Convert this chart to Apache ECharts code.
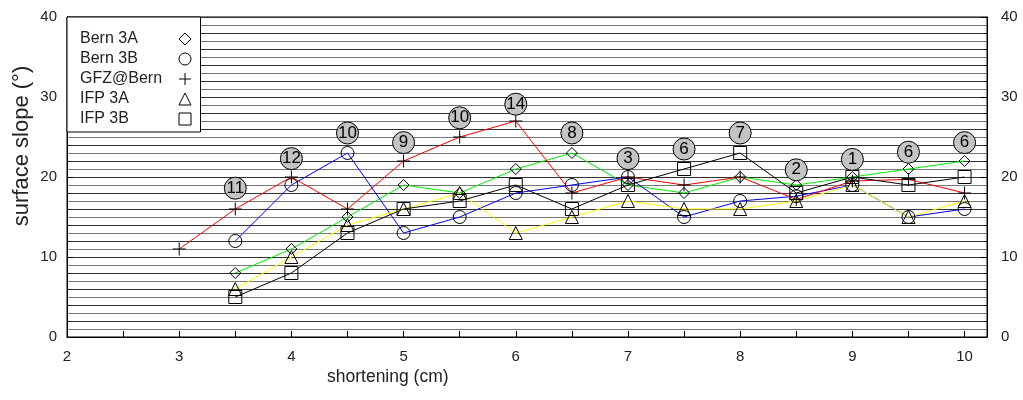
<!DOCTYPE html>
<html>
<head>
<meta charset="utf-8">
<script src="https://cdn.jsdelivr.net/npm/echarts@6/dist/echarts.min.js"></script>
<style>
  html, body { margin: 0; padding: 0; background: #fff; }
  #chart { width: 1023px; height: 400px; }
</style>
</head>
<body>
<div id="chart"></div>
<script>
// shortening (cm)
const shortening = [3.5, 4, 4.5, 5, 5.5, 6, 6.5, 7, 7.5, 8, 8.5, 9, 9.5, 10];
const shorteningGfz = [3, 3.5, 4, 4.5, 5, 5.5, 6, 6.5, 7, 7.5, 8, 8.5, 9, 9.5, 10];

// surface slope (deg)
const bern3A = [8, 11, 15, 19, 18, 21, 23, 19, 18, 20, 19, 20, 21, 22];
const bern3B = [12, 19, 23, 13, 15, 18, 19, 20, 15, 17, 17.6, 19, 15, 16];
const gfzBern = [11, 16, 20, 16, 22, 25, 27, 18, 20, 19, 20, 17.2, 19.5, 19.7, 18];
const ifp3A = [6, 10, 14, 16, 18, 13, 15, 17, 16, 16, 17, 19, 15, 17];
const ifp3B = [5, 8, 13, 16, 17, 19, 16, 19, 21, 23, 18, 20, 19, 20];

// circled numbers above each shortening step
const annotN = [11, 12, 10, 9, 10, 14, 8, 3, 6, 7, 2, 1, 6, 6];
const annotY = [18.6, 22.3, 25.5, 24.3, 27.4, 29.1, 25.5, 22.3, 23.5, 25.5, 20.9, 22.2, 23.1, 24.3];

const xTickLabels = [2, 3, 4, 5, 6, 7, 8, 9, 10];
const yTickLabels = [0, 10, 20, 30, 40];

const plusPath = 'path://M0,-6L0,6M-6,0L6,0';
const FONT = 'Liberation Sans, Arial, sans-serif';

const pairs = (xs, ys) => xs.map((x, i) => [x, ys[i]]);

const seriesDefs = [
  { name: 'Bern 3A', x: shortening, y: bern3A, color: '#00ee00', symbol: 'diamond', size: 11 },
  { name: 'Bern 3B', x: shortening, y: bern3B, color: '#0000ff', symbol: 'circle', size: 13 },
  { name: 'GFZ@Bern', x: shorteningGfz, y: gfzBern, color: '#ff0000', symbol: plusPath, size: 13 },
  { name: 'IFP 3A', x: shortening, y: ifp3A, color: '#ffff00', symbol: 'triangle', size: 13 },
  { name: 'IFP 3B', x: shortening, y: ifp3B, color: '#000000', symbol: 'rect', size: 13 }
];

const chart = echarts.init(document.getElementById('chart'));

const series = seriesDefs.map(d => ({
  name: d.name,
  type: 'line',
  data: pairs(d.x, d.y),
  symbol: d.symbol,
  symbolSize: d.size,
  showSymbol: true,
  animation: false,
  lineStyle: { color: d.color, width: 1 },
  itemStyle: { color: 'rgba(0,0,0,0)', borderColor: '#000', borderWidth: 1 },
  z: 3
}));

series.push({
  name: 'count',
  type: 'scatter',
  data: shortening.map((x, i) => [x, annotY[i], annotN[i]]),
  symbol: 'circle',
  symbolSize: 22,
  itemStyle: { color: '#c4c4c4', borderColor: '#000', borderWidth: 1, opacity: 1 },
  label: {
    show: true,
    position: 'inside',
    formatter: p => String(p.value[2]),
    color: '#000',
    fontFamily: FONT,
    fontSize: 17
  },
  animation: false,
  z: 4
});

const yTickFmt = v => (yTickLabels.indexOf(v) >= 0 ? String(v) : '');
const xTickFmt = v => (xTickLabels.indexOf(v) >= 0 ? String(v) : '');

chart.setOption({
  backgroundColor: '#fff',
  animation: false,
  textStyle: { fontFamily: FONT },
  grid: { left: 67, right: 36, top: 17, bottom: 63, show: true, borderColor: '#000', borderWidth: 1, backgroundColor: 'transparent' },
  legend: {
    orient: 'vertical',
    left: 67,
    top: 17,
    data: [
      { name: 'Bern 3A', icon: 'diamond' },
      { name: 'Bern 3B', icon: 'circle' },
      { name: 'GFZ@Bern', icon: plusPath },
      { name: 'IFP 3A', icon: 'triangle' },
      { name: 'IFP 3B', icon: 'rect' }
    ],
    align: 'right',
    itemWidth: 12,
    itemHeight: 12,
    itemGap: 4,
    padding: [14, 9, 5, 13],
    backgroundColor: '#fff',
    borderColor: '#000',
    borderWidth: 1,
    itemStyle: { color: 'rgba(0,0,0,0)', borderColor: '#000', borderWidth: 1 },
    formatter: name => '{t|' + name + '}',
    textStyle: {
      fontSize: 16, color: '#222', fontFamily: FONT,
      rich: { t: { width: 94, align: 'left', fontSize: 16, color: '#222', fontFamily: FONT } }
    },
    z: 10
  },
  xAxis: {
    type: 'value',
    min: 2,
    max: 10.2,
    interval: 1,
    axisLine: { show: true, lineStyle: { color: '#000' } },
    axisTick: { show: true, inside: true, length: 6, lineStyle: { color: '#000' } },
    minorTick: { show: true, splitNumber: 2, length: 6, lineStyle: { color: '#000' } },
    axisLabel: { formatter: xTickFmt, color: '#222', fontSize: 15, margin: 12, fontFamily: FONT, showMaxLabel: false },
    splitLine: { show: false }
  },
  yAxis: [
    {
      type: 'value', min: 0, max: 40, interval: 10, position: 'left',
      axisLine: { show: true, lineStyle: { color: '#000' } },
      axisTick: { show: true, inside: true, length: 6, lineStyle: { color: '#000' } },
      minorTick: { show: true, splitNumber: 5, length: 3, lineStyle: { color: '#000' } },
      axisLabel: { formatter: yTickFmt, color: '#222', fontSize: 15, margin: 10, fontFamily: FONT },
      splitLine: { show: false }
    },
    {
      type: 'value', min: 0, max: 40, interval: 10, position: 'right',
      axisLine: { show: true, lineStyle: { color: '#000' } },
      axisTick: { show: true, inside: true, length: 6, lineStyle: { color: '#000' } },
      minorTick: { show: true, splitNumber: 5, length: 3, lineStyle: { color: '#000' } },
      axisLabel: { formatter: yTickFmt, color: '#222', fontSize: 15, margin: 14, fontFamily: FONT },
      splitLine: { show: false }
    },
    {
      type: 'value', min: 0, max: 40, interval: 1, position: 'left',
      axisLine: { show: false },
      axisTick: { show: false },
      axisLabel: { show: false },
      splitLine: { show: true, lineStyle: { color: ['#333', '#777'], width: 1 } }
    }
  ],
  graphic: [
    {
      type: 'text',
      left: 327,
      top: 368,
      style: { text: 'shortening (cm)', fontSize: 17.5, fill: '#222', fontFamily: FONT }
    },
    {
      type: 'text',
      x: 22,
      y: 146,
      rotation: Math.PI / 2,
      style: { text: 'surface slope (°)', fontSize: 22, fill: '#222', fontFamily: FONT, align: 'center', verticalAlign: 'middle' }
    }
  ],
  series: series
});
</script>
</body>
</html>
